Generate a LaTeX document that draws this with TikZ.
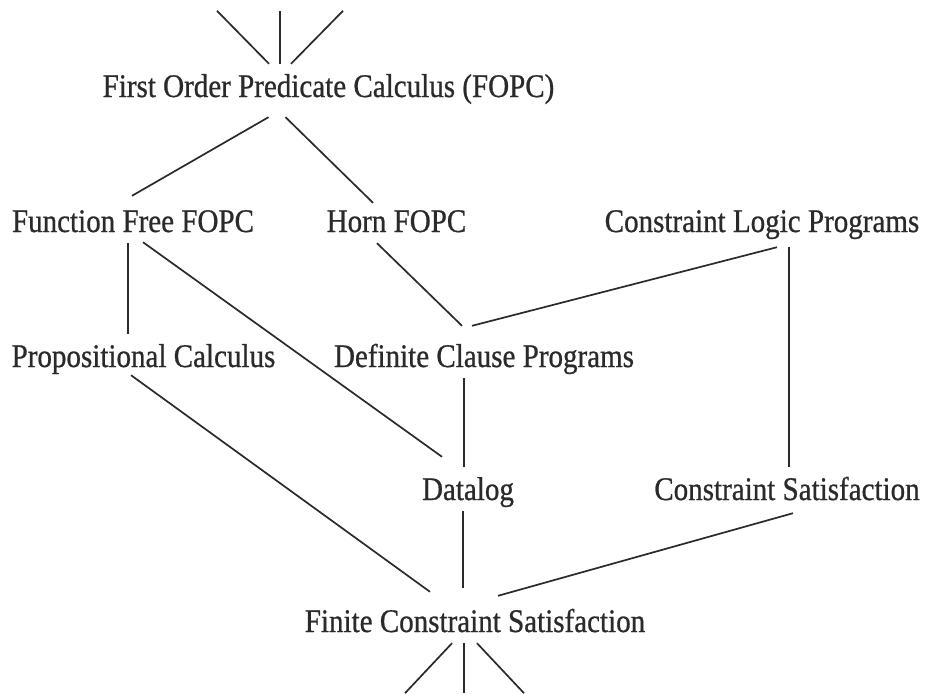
\documentclass[tikz,border=0pt]{standalone}
\usepackage{fontspec}
\setmainfont{Liberation Serif}[FakeStretch=0.88, FakeBold=0.7]
\definecolor{ink}{HTML}{2A2A2A}
\tikzset{
  lbl/.style={inner xsep=0pt, inner ysep=11pt, text height=22pt, text depth=0pt,
    anchor=base, text=ink, font=\fontsize{33}{36}\selectfont},
  edge/.style={draw=ink, line width=1.7pt},
}
\begin{document}
\begin{tikzpicture}[x=1pt, y=-1pt]
\useasboundingbox (0,0) rectangle (925,693);
\node [lbl] (fopc) at (328.5,97) {First Order Predicate Calculus (FOPC)};
\node [lbl] (fff) at (133,232) {Function Free FOPC};
\node [lbl] (horn) at (396.5,232) {Horn FOPC};
\node [lbl] (clp) at (762,232) {Constraint Logic Programs};
\node [lbl] (pc) at (143.5,367) {Propositional Calculus};
\node [lbl] (dcp) at (484,367) {Definite Clause Programs};
\node [lbl] (datalog) at (468,500) {Datalog};
\node [lbl] (cs) at (787,500) {Constraint Satisfaction};
\node [lbl] (fcs) at (475,632) {Finite Constraint Satisfaction};
\draw [edge] ([xshift=-59.5pt]fopc.north) -- ++(-52,-53);
\draw [edge] ([xshift=-48.5pt]fopc.north) -- ++(0,-53);
\draw [edge] ([xshift=-37.5pt]fopc.north) -- ++(52,-53);
\draw [edge] ([xshift=-60pt,yshift=-9pt]fopc.south) -- ([xshift=-1pt,yshift=3pt]fff.north);
\draw [edge] ([xshift=-43pt,yshift=-9pt]fopc.south) -- ([xshift=-23.5pt,yshift=-4pt]horn.north);
\draw [edge] ([xshift=-5pt]fff.south) -- ([xshift=-15.5pt]pc.north);
\draw [edge] ([xshift=10pt,yshift=1pt]fff.south) -- ([xshift=-26pt,yshift=10pt]datalog.north);
\draw [edge] ([xshift=-19.5pt]horn.south) -- ([xshift=-22pt,yshift=8pt]dcp.north);
\draw [edge] ([xshift=15pt,yshift=-4pt]clp.south) -- ([xshift=-12pt,yshift=8pt]dcp.north);
\draw [edge] ([xshift=27pt,yshift=-4pt]clp.south) -- ([xshift=2pt]cs.north);
\draw [edge] ([xshift=-20pt]dcp.south) -- ([xshift=-4pt]datalog.north);
\draw [edge] ([xshift=-12.5pt,yshift=3pt]pc.south) -- ([xshift=-45pt,yshift=7pt]fcs.north);
\draw [edge] ([xshift=-5pt]datalog.south) -- ([xshift=-12pt,yshift=11pt]fcs.north);
\draw [edge] ([xshift=6pt,yshift=-2pt]cs.south) -- ([xshift=23pt,yshift=3pt]fcs.north);
\draw [edge] ([xshift=-23pt]fcs.south) -- ++(-47,50);
\draw [edge] ([xshift=-11pt]fcs.south) -- ++(0,50);
\draw [edge] ([xshift=2pt]fcs.south) -- ++(47,50);
\end{tikzpicture}
\end{document}
